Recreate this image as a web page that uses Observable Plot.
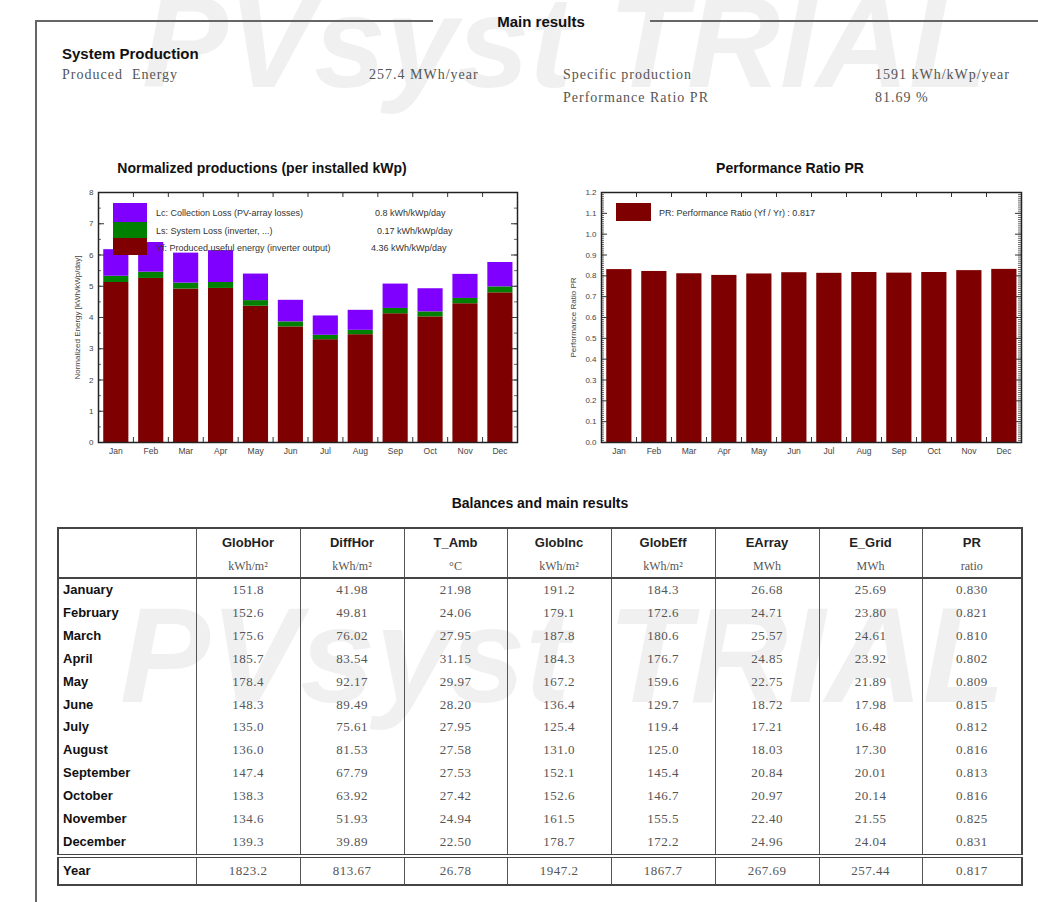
<!DOCTYPE html>
<html><head><meta charset="utf-8">
<script src="https://cdn.jsdelivr.net/npm/d3@7"></script>
<script src="https://cdn.jsdelivr.net/npm/@observablehq/plot@0.6"></script>
<style>
body{margin:0;background:#fff;}
#page{position:relative;width:1038px;height:902px;overflow:hidden;font-family:"Liberation Sans",Arial,sans-serif;background:#fff;}
.t{position:absolute;white-space:nowrap;transform:translateY(-50%);line-height:1;}
.c{transform:translate(-50%,-50%);}
.b{font-weight:bold;color:#111;}
.s{font-family:"Liberation Serif","DejaVu Serif",serif;color:#555;font-size:14px;letter-spacing:1px;}
.lg{font-size:9px;color:#333;}
.sw{position:absolute;}
.wm{position:absolute;white-space:nowrap;font-family:"Liberation Sans",Arial,sans-serif;font-weight:bold;font-style:italic;color:#000;opacity:0.055;line-height:1;pointer-events:none;}
.chart{position:absolute;}
table{position:absolute;left:57px;top:527px;width:964px;border-collapse:collapse;table-layout:fixed;border:2px solid #444;}
td,th{border-left:1.5px solid #555;border-right:1.5px solid #555;padding:0;text-align:center;}
th{height:48px;border-bottom:2px solid #444;vertical-align:top;}
th .n{font-family:"Liberation Sans",Arial,sans-serif;font-weight:bold;font-size:13px;color:#222;height:26px;line-height:28px;}
th .u{font-family:"Liberation Serif",serif;font-weight:normal;font-size:12px;color:#555;height:22px;line-height:22px;}
td{font-family:"Liberation Serif",serif;font-size:13px;color:#555;letter-spacing:0.5px;height:22.9px;line-height:22.9px;}
td.m{text-align:left;padding-left:4px;font-family:"Liberation Sans",Arial,sans-serif;font-weight:bold;color:#111;letter-spacing:0;}
tr.yr td{border-top:4px double #444;height:26px;line-height:26px;}
</style>
</head><body>
<div id="page">
  <div class="wm" style="left:142px;top:-22px;font-size:129px;">PVsyst TRIAL</div>
  <div class="wm" style="left:120px;top:588px;font-size:135px;">PVsyst TRIAL</div>

  <div style="position:absolute;left:35px;top:20px;width:2px;height:900px;background:#666;"></div>
  <div style="position:absolute;left:35px;top:20px;width:398px;height:2px;background:#666;"></div>
  <div style="position:absolute;left:650px;top:20px;width:400px;height:2px;background:#666;"></div>
  <div class="t c b" style="left:541px;top:21px;font-size:15px;">Main results</div>

  <div class="t b" style="left:62px;top:53px;font-size:15px;">System Production</div>
  <div class="t s" style="left:62px;top:75px;">Produced&nbsp; Energy</div>
  <div class="t s" style="left:369px;top:75px;">257.4 MWh/year</div>
  <div class="t s" style="left:563px;top:75px;">Specific production</div>
  <div class="t s" style="left:875px;top:75px;">1591 kWh/kWp/year</div>
  <div class="t s" style="left:563px;top:98px;">Performance Ratio PR</div>
  <div class="t s" style="left:875px;top:98px;">81.69 %</div>

  <div class="t c b" style="left:262px;top:168px;font-size:14px;">Normalized productions (per installed kWp)</div>
  <div class="t c b" style="left:790px;top:168px;font-size:14px;">Performance Ratio PR</div>

  <div id="c1" class="chart" style="left:40px;top:180px;"></div>
  <div id="c2" class="chart" style="left:550px;top:180px;"></div>

  <div id="leg1"></div>
  <div id="leg2"></div>

  <div class="t c b" style="left:540px;top:503px;font-size:14px;">Balances and main results</div>
  <div id="tbl"></div>
</div>
<script>
// ---- data ----
const months = ["Jan","Feb","Mar","Apr","May","Jun","Jul","Aug","Sep","Oct","Nov","Dec"];
const yf = [5.12,5.25,4.91,4.93,4.36,3.70,3.29,3.45,4.12,4.02,4.44,4.79];   // produced useful energy
const ls = [0.20,0.20,0.19,0.19,0.18,0.16,0.14,0.14,0.17,0.16,0.17,0.19];   // system loss
const lc = [0.85,0.95,0.96,1.02,0.85,0.69,0.62,0.64,0.78,0.74,0.77,0.78];   // collection loss
const prMonthly = [0.830,0.821,0.810,0.802,0.809,0.815,0.812,0.816,0.813,0.816,0.825,0.831];

const yTicks1 = [0,1,2,3,4,5,6,7,8];
const yTicks2 = [0,0.1,0.2,0.3,0.4,0.5,0.6,0.7,0.8,0.9,1.0,1.1,1.2];

const legend1 = [
  {label:"Lc: Collection Loss (PV-array losses)", value:"0.8 kWh/kWp/day", color:"#8000ff"},
  {label:"Ls: System Loss  (inverter, ...)", value:"0.17 kWh/kWp/day", color:"#008000"},
  {label:"Yf: Produced useful energy  (inverter output)", value:"4.36 kWh/kWp/day", color:"#7f0000"}
];
const legend2 = {label:"PR: Performance Ratio (Yf / Yr) :  0.817", color:"#7f0000"};

const tableMonths = ["January","February","March","April","May","June","July","August","September","October","November","December"];
const colNames = ["GlobHor","DiffHor","T_Amb","GlobInc","GlobEff","EArray","E_Grid","PR"];
const colUnits = ["kWh/m²","kWh/m²","°C","kWh/m²","kWh/m²","MWh","MWh","ratio"];
const globHor = ["151.8","152.6","175.6","185.7","178.4","148.3","135.0","136.0","147.4","138.3","134.6","139.3"];
const diffHor = ["41.98","49.81","76.02","83.54","92.17","89.49","75.61","81.53","67.79","63.92","51.93","39.89"];
const tAmb    = ["21.98","24.06","27.95","31.15","29.97","28.20","27.95","27.58","27.53","27.42","24.94","22.50"];
const globInc = ["191.2","179.1","187.8","184.3","167.2","136.4","125.4","131.0","152.1","152.6","161.5","178.7"];
const globEff = ["184.3","172.6","180.6","176.7","159.6","129.7","119.4","125.0","145.4","146.7","155.5","172.2"];
const eArray  = ["26.68","24.71","25.57","24.85","22.75","18.72","17.21","18.03","20.84","20.97","22.40","24.96"];
const eGrid   = ["25.69","23.80","24.61","23.92","21.89","17.98","16.48","17.30","20.01","20.14","21.55","24.04"];
const prCol   = ["0.830","0.821","0.810","0.802","0.809","0.815","0.812","0.816","0.813","0.816","0.825","0.831"];
const yearRow = ["1823.2","813.67","26.78","1947.2","1867.7","267.69","257.44","0.817"];

// ---- helpers ----
const COL = {Yf:"#7f0000", Ls:"#008000", Lc:"#8000ff"};
const BAR0 = 0.15, BAR1 = 0.87;
const centers = months.map((_, i) => i + 0.5);
const bounds = months.slice(1).map((_, i) => i + 1);

function frameTicks(yMajor, yMinor, pw, ph) {
  const st = {stroke:"#333", strokeWidth:1};
  return [
    Plot.tickY(yMajor, {y:d=>d, insetRight: pw-6, ...st}),
    Plot.tickY(yMajor, {y:d=>d, insetLeft: pw-6, ...st}),
    Plot.tickY(yMinor, {y:d=>d, insetRight: pw-3, stroke:"#444", strokeWidth:0.8}),
    Plot.tickY(yMinor, {y:d=>d, insetLeft: pw-3, stroke:"#444", strokeWidth:0.8}),
    Plot.tickX(bounds, {x:d=>d, insetBottom: ph-5, ...st}),
    Plot.tickX(bounds, {x:d=>d, insetTop: ph-5, ...st})
  ];
}

// ---- chart 1 ----
{
  const W=490, H=290, ml=58, mr=13, mt=12, mb=28;
  const pw=W-ml-mr, ph=H-mt-mb;
  const rows = [];
  months.forEach((m,i) => {
    const a = yf[i], b = a + ls[i], c = b + lc[i];
    rows.push({i, s:"Yf", y1:0, y2:a});
    rows.push({i, s:"Ls", y1:a, y2:b});
    rows.push({i, s:"Lc", y1:b, y2:c});
  });
  const minor = d3.range(0, 8.001, 0.5);
  const p = Plot.plot({
    width:W, height:H, marginLeft:ml, marginRight:mr, marginTop:mt, marginBottom:mb,
    style:{fontFamily:"Liberation Sans, Arial, sans-serif", fontSize:"8px", color:"#444", background:"transparent", overflow:"visible"},
    x:{domain:[0,12], axis:null},
    y:{domain:[0,8], axis:null},
    marks:[
      Plot.rectY(rows, {x1:d=>d.i+BAR0, x2:d=>d.i+BAR1, y1:"y1", y2:"y2", fill:d=>COL[d.s]}),
      ...frameTicks(yTicks1, minor, pw, ph),
      Plot.axisY({ticks:yTicks1, tickSize:0, tickPadding:5, label:"Normalized Energy [kWh/kWp/day]", labelAnchor:"center", labelArrow:"none", labelOffset:24, fontSize:8}),
      Plot.axisX({ticks:centers, tickFormat:d=>months[Math.floor(d)], tickSize:0, tickPadding:5, label:null, fontSize:8.5}),
      Plot.frame({stroke:"#222", strokeWidth:1.5})
    ]
  });
  document.getElementById("c1").append(p);
}

// ---- chart 2 ----
{
  const W=488, H=290, ml=51, mr=17, mt=12, mb=28;
  const pw=W-ml-mr, ph=H-mt-mb;
  const minor = d3.range(0, 1.2001, 0.01);
  const p = Plot.plot({
    width:W, height:H, marginLeft:ml, marginRight:mr, marginTop:mt, marginBottom:mb,
    style:{fontFamily:"Liberation Sans, Arial, sans-serif", fontSize:"8px", color:"#444", background:"transparent", overflow:"visible"},
    x:{domain:[0,12], axis:null},
    y:{domain:[0,1.2], axis:null},
    marks:[
      Plot.rectY(prMonthly, {x1:(d,i)=>i+BAR0, x2:(d,i)=>i+BAR1, y1:0, y2:d=>d, fill:"#7f0000"}),
      ...frameTicks(yTicks2, minor, pw, ph),
      Plot.axisY({ticks:yTicks2, tickFormat:d3.format(".1f"), tickSize:0, tickPadding:5, label:"Performance Ratio PR", labelAnchor:"center", labelArrow:"none", labelOffset:31, fontSize:8}),
      Plot.axisX({ticks:centers, tickFormat:d=>months[Math.floor(d)], tickSize:0, tickPadding:5, label:null, fontSize:8.5}),
      Plot.frame({stroke:"#222", strokeWidth:1.5})
    ]
  });
  document.getElementById("c2").append(p);
}

// ---- legends ----
{
  const L = document.getElementById("leg1");
  const sw = [[203,19],[222,16],[238,17]];
  const ty = [213,231,248];
  const vx = [375,377,371];
  legend1.forEach((d,k) => {
    L.insertAdjacentHTML("beforeend",
      `<div class="sw" style="left:113px;top:${sw[k][0]}px;width:34px;height:${sw[k][1]}px;background:${d.color}"></div>` +
      `<div class="t lg" style="left:156px;top:${ty[k]}px">${d.label}</div>` +
      `<div class="t lg" style="left:${vx[k]}px;top:${ty[k]}px">${d.value}</div>`);
  });
  const L2 = document.getElementById("leg2");
  L2.innerHTML = `<div class="sw" style="left:616px;top:203px;width:35px;height:18px;background:${legend2.color}"></div>` +
    `<div class="t lg" style="left:659px;top:213px">${legend2.label}</div>`;
}

// ---- table ----
{
  const widths = [138,104,104,103,104,104,104,103,100];
  const cols = [globHor,diffHor,tAmb,globInc,globEff,eArray,eGrid,prCol];
  let h = "<table><colgroup>" + widths.map(w=>`<col style="width:${w}px">`).join("") + "</colgroup>";
  h += "<tr><th></th>" + colNames.map((n,j)=>`<th><div class="n">${n}</div><div class="u">${colUnits[j]}</div></th>`).join("") + "</tr>";
  tableMonths.forEach((m,i) => {
    h += `<tr><td class="m">${m}</td>` + cols.map(c=>`<td>${c[i]}</td>`).join("") + "</tr>";
  });
  h += `<tr class="yr"><td class="m">Year</td>` + yearRow.map(v=>`<td>${v}</td>`).join("") + "</tr></table>";
  document.getElementById("tbl").innerHTML = h;
}
</script>
</body></html>
